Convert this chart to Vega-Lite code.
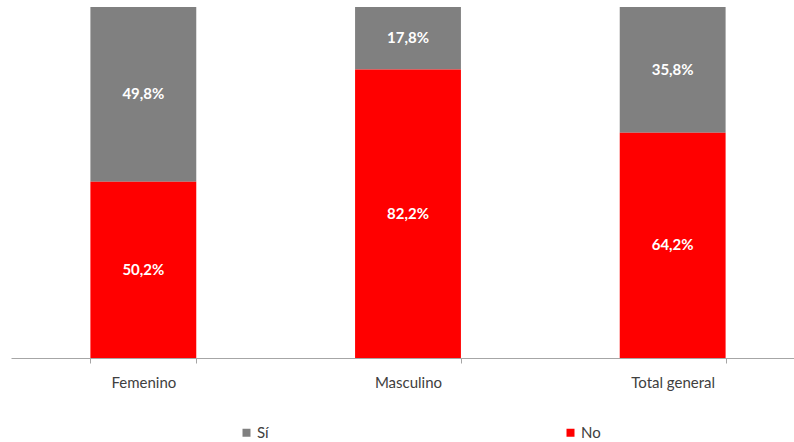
{
  "$schema": "https://vega.github.io/schema/vega-lite/v6.json",
  "width": 794,
  "height": 351,
  "padding": {"left": 11, "top": 7, "right": 0, "bottom": 0},
  "background": "white",
  "config": {
    "view": {"stroke": null},
    "font": "Lato",
    "locale": {
      "number": {"decimal": ",", "thousands": ".", "grouping": [3], "currency": ["", " €"]}
    }
  },
  "data": {
    "values": [
      {"sexo": "Femenino", "resp": "Sí", "v": 0.498},
      {"sexo": "Femenino", "resp": "No", "v": 0.502},
      {"sexo": "Masculino", "resp": "Sí", "v": 0.178},
      {"sexo": "Masculino", "resp": "No", "v": 0.822},
      {"sexo": "Total general", "resp": "Sí", "v": 0.358},
      {"sexo": "Total general", "resp": "No", "v": 0.642}
    ]
  },
  "transform": [
    {"stack": "v", "groupby": ["sexo"], "sort": [{"field": "resp", "order": "ascending"}], "offset": "normalize", "as": ["y0", "y1"]}
  ],
  "encoding": {
    "x": {
      "field": "sexo",
      "type": "nominal",
      "sort": ["Femenino", "Masculino", "Total general"],
      "scale": {"paddingInner": 0.6, "paddingOuter": 0.3},
      "axis": {
        "title": null,
        "labelAngle": 0,
        "labelFontSize": 15,
        "labelColor": "#404040",
        "labelPadding": 12,
        "domainColor": "#a6a6a6",
        "tickColor": "#a6a6a6",
        "tickSize": 5,
        "tickBand": "extent"
      }
    }
  },
  "layer": [
    {
      "mark": {"type": "bar"},
      "encoding": {
        "y": {"field": "y0", "type": "quantitative", "scale": {"domain": [0, 1]}, "axis": null},
        "y2": {"field": "y1"},
        "color": {
          "field": "resp",
          "type": "nominal",
          "scale": {"domain": ["Sí", "No"], "range": ["#808080", "#ff0000"]},
          "legend": {
            "title": null,
            "orient": "none",
            "direction": "horizontal",
            "legendX": 228,
            "legendY": 418,
            "symbolType": "square",
            "symbolSize": 64,
            "symbolStrokeWidth": 0,
            "labelFontSize": 15,
            "labelColor": "#404040",
            "labelOffset": 3,
            "columnPadding": 294
          }
        }
      }
    },
    {
      "transform": [{"calculate": "(datum.y0 + datum.y1) / 2", "as": "ymid"}],
      "mark": {"type": "text", "color": "white", "fontWeight": "bold", "fontSize": 15, "baseline": "middle"},
      "encoding": {
        "y": {"field": "ymid", "type": "quantitative", "scale": {"domain": [0, 1]}, "axis": null},
        "text": {"field": "v", "type": "quantitative", "format": ".1%"}
      }
    }
  ]
}
